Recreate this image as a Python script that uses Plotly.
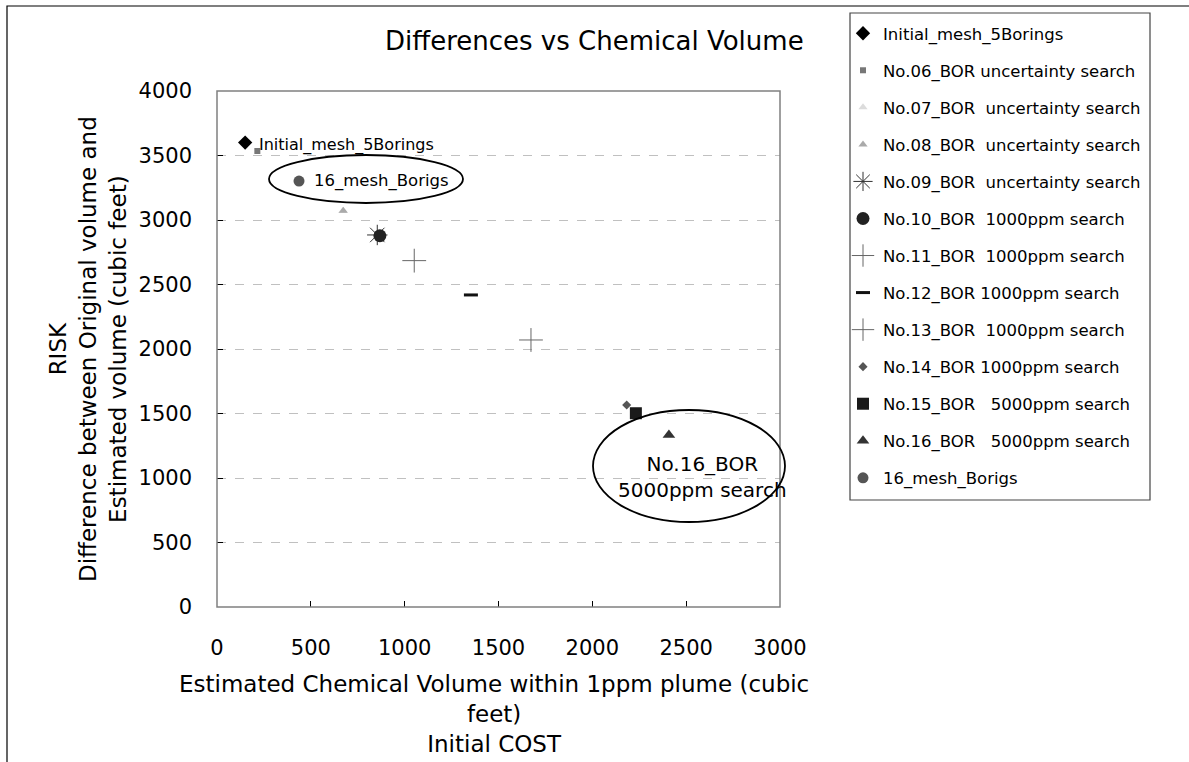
import plotly.graph_objects as go

# ---- data ----
series_names = [
    "Initial_mesh_5Borings",
    "No.06_BOR uncertainty search",
    "No.07_BOR  uncertainty search",
    "No.08_BOR  uncertainty search",
    "No.09_BOR  uncertainty search",
    "No.10_BOR  1000ppm search",
    "No.11_BOR  1000ppm search",
    "No.12_BOR 1000ppm search",
    "No.13_BOR  1000ppm search",
    "No.14_BOR 1000ppm search",
    "No.15_BOR   5000ppm search",
    "No.16_BOR   5000ppm search",
    "16_mesh_Borigs",
]
x_vals = [150, 215, 670, 673, 854, 868, 1051, 1353, 1673, 2183, 2232, 2408, 437]
y_vals = [3600, 3535, 3070, 3072, 2884, 2878, 2685, 2419, 2070, 1566, 1502, 1333, 3302]

x_ticks = [0, 500, 1000, 1500, 2000, 2500, 3000]
y_ticks = [0, 500, 1000, 1500, 2000, 2500, 3000, 3500, 4000]

# ---- styles ----
styles = [
    dict(symbol="diamond", size=11, color="#000000"),
    dict(symbol="square", size=6, color="#777777"),
    dict(symbol="triangle-up", size=8, color="#dcdcdc"),
    dict(symbol="triangle-up", size=8, color="#aaaaaa"),
    dict(symbol="asterisk-open", size=17, color="#333333", line=dict(width=1, color="#333333")),
    dict(symbol="circle", size=13, color="#222222"),
    dict(symbol="cross-thin-open", size=17, color="#666666", line=dict(width=1, color="#666666")),
    dict(symbol="line-ew-open", size=10, color="#111111", line=dict(width=3, color="#111111")),
    dict(symbol="cross-thin-open", size=17, color="#666666", line=dict(width=1, color="#666666")),
    dict(symbol="diamond", size=7, color="#555555"),
    dict(symbol="square", size=12, color="#1a1a1a"),
    dict(symbol="triangle-up", size=11, color="#333333"),
    dict(symbol="circle", size=11, color="#555555"),
]
zorders = [0, 0, -1, 0, 0, 1, 0, 0, 0, 0, 0, 0, 0]

FONT = "DejaVu Sans, Liberation Sans, Arial, sans-serif"
fig = go.Figure()
for i, name in enumerate(series_names):
    fig.add_trace(go.Scatter(
        x=[x_vals[i]], y=[y_vals[i]], mode="markers", name=name,
        marker=styles[i], legendgroup=f"g{i}", zorder=zorders[i],
    ))

# plot area geometry (pixels)
L, R, T, B = 217, 780, 91, 607
W, H = 1189, 762
pw, ph = R - L, B - T

def px(xp):
    return (xp - L) / pw

def py(yp):
    return (B - yp) / ph

shapes = [
    # figure outer border
    dict(type="rect", xref="paper", yref="paper", x0=px(7), x1=px(1200), y0=py(800), y1=py(6),
         line=dict(color="#000000", width=1.2)),
    # plot area frame (gray)
    dict(type="rect", xref="paper", yref="paper", x0=0, x1=1, y0=0, y1=1,
         line=dict(color="#808080", width=1.5)),
    # legend box
    dict(type="rect", xref="paper", yref="paper", x0=px(850), x1=px(1150), y0=py(500), y1=py(13),
         line=dict(color="#444444", width=1.2), fillcolor="rgba(0,0,0,0)"),
    # ellipses
    dict(type="circle", xref="paper", yref="paper", x0=px(269), x1=px(463), y0=py(203), y1=py(155),
         line=dict(color="#000000", width=1.8)),
    dict(type="circle", xref="paper", yref="paper", x0=px(593), x1=px(785), y0=py(522), y1=py(410),
         line=dict(color="#000000", width=1.8)),
]

annotations = [
    dict(text="Differences vs Chemical Volume", xref="paper", yref="paper", x=px(594), y=py(41),
         showarrow=False, font=dict(size=26, color="#000"), xanchor="center", yanchor="middle"),
    dict(text="Initial_mesh_5Borings", xref="paper", yref="paper", x=px(257), y=py(145),
         showarrow=False, font=dict(size=16, color="#000"), xanchor="left", yanchor="middle"),
    dict(text="16_mesh_Borigs", xref="paper", yref="paper", x=px(312), y=py(181),
         showarrow=False, font=dict(size=16.5, color="#000"), xanchor="left", yanchor="middle"),
    dict(text="No.16_BOR<br>5000ppm search", xref="paper", yref="paper", x=px(702), y=py(477),
         showarrow=False, font=dict(size=20, color="#000"), xanchor="center", yanchor="middle"),
    dict(text="Estimated Chemical Volume within 1ppm plume (cubic<br>feet)<br>Initial COST",
         xref="paper", yref="paper", x=px(494), y=py(714), showarrow=False,
         font=dict(size=23, color="#000"), xanchor="center", yanchor="middle"),
    dict(text="RISK<br>Difference between Original volume and<br>Estimated volume (cubic feet)",
         xref="paper", yref="paper", x=px(88), y=py(349), textangle=-90, showarrow=False,
         font=dict(size=23, color="#000"), xanchor="center", yanchor="middle"),
]

fig.update_layout(
    width=W, height=H,
    margin=dict(l=L, r=W - R, t=T, b=H - B, pad=0),
    paper_bgcolor="white", plot_bgcolor="white",
    font=dict(family=FONT, color="#000"),
    showlegend=True,
    legend=dict(
        x=px(843), y=py(16), xanchor="left", yanchor="top",
        borderwidth=0, bgcolor="rgba(0,0,0,0)",
        font=dict(size=16.5, color="#000"), tracegroupgap=12.6,
        itemwidth=30, maxheight=700,
    ),
    shapes=shapes, annotations=annotations,
)
fig.update_xaxes(
    range=[0, 3000], tickvals=x_ticks, ticktext=[str(v) for v in x_ticks],
    showgrid=False, zeroline=False, showline=True, linecolor="#000", linewidth=1.5,
    ticks="inside", ticklen=6, tickcolor="#000", tickfont=dict(size=21), ticklabelstandoff=21,
)
fig.update_yaxes(
    range=[0, 4000], tickvals=y_ticks, ticktext=[str(v) for v in y_ticks],
    showgrid=True, gridcolor="#c0c0c0", griddash="dash", gridwidth=1,
    zeroline=False, showline=True, linecolor="#000", linewidth=1.5,
    ticks="inside", ticklen=6, tickcolor="#000", tickfont=dict(size=21), ticklabelstandoff=19,
)

fig.write_html("out.html")
